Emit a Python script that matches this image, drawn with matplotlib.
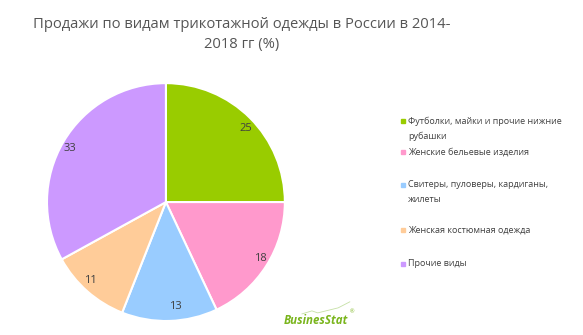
import matplotlib
matplotlib.use("Agg")
import matplotlib.pyplot as plt
from matplotlib.patches import Rectangle
from matplotlib.lines import Line2D

plt.rcParams['font.family'] = ['Open Sans', 'DejaVu Sans']

# sales share by knitwear type, %
categories = [
    "Футболки, майки и прочие нижние\nрубашки",
    "Женские бельевые изделия",
    "Свитеры, пуловеры, кардиганы,\nжилеты",
    "Женская костюмная одежда",
    "Прочие виды",
]
shares = [25, 18, 13, 11, 33]
colors = ["#99CC00", "#FF99CC", "#99CCFF", "#FFCC99", "#CC99FF"]

fig = plt.figure(figsize=(5.83, 3.35), dpi=100)
ax = fig.add_axes([0.0806, 0.0418, 0.408, 0.710])

wedges, texts = ax.pie(
    shares, colors=colors, startangle=90, counterclock=False,
    labels=[str(v) for v in shares], labeldistance=0.88,
    wedgeprops=dict(edgecolor="white", linewidth=1.5),
    textprops=dict(fontsize=8, color="#404040"),
)
ax.set_xlim(-1, 1)
ax.set_ylim(-1, 1)
ax.set_aspect("equal")

fig.text(0.415, 0.896, "Продажи по видам трикотажной одежды в России в 2014-\n2018 гг (%)",
         ha="center", va="center", fontsize=10.6, color="#555555", linespacing=1.45)

# legend entries drawn by hand so the uneven spacing holds
legend_y = [0.639, 0.546, 0.448, 0.313, 0.212]
for y, label, c in zip(legend_y, categories, colors):
    fig.patches.append(Rectangle((0.688, y - 0.006), 0.007, 0.012,
                                 transform=fig.transFigure, color=c))
    first, *rest = label.split("\n")
    fig.text(0.700, y, first, ha="left", va="center", fontsize=6.5, color="#404040")
    if rest:
        fig.text(0.700, y - 0.045, rest[0], ha="left", va="center", fontsize=6.5, color="#404040")

# logo
logo_green = "#7AB51D"
logo = fig.text(0.487, 0.044, "BusinesStat", ha="left", va="center", fontsize=8.3,
                fontweight="bold", style="italic", color=logo_green)
fig.canvas.draw()
bb = logo.get_window_extent().transformed(fig.transFigure.inverted())
fig.text(bb.x1 + 0.002, 0.068, "®", ha="left", va="center", fontsize=4, color=logo_green)
fig.lines.append(Line2D([0.518, 0.535, 0.545, 0.580, 0.600], [0.063, 0.072, 0.066, 0.081, 0.099],
                        transform=fig.transFigure, color="#C5E0A5", linewidth=0.6))

fig.savefig("out.png", dpi=100)
